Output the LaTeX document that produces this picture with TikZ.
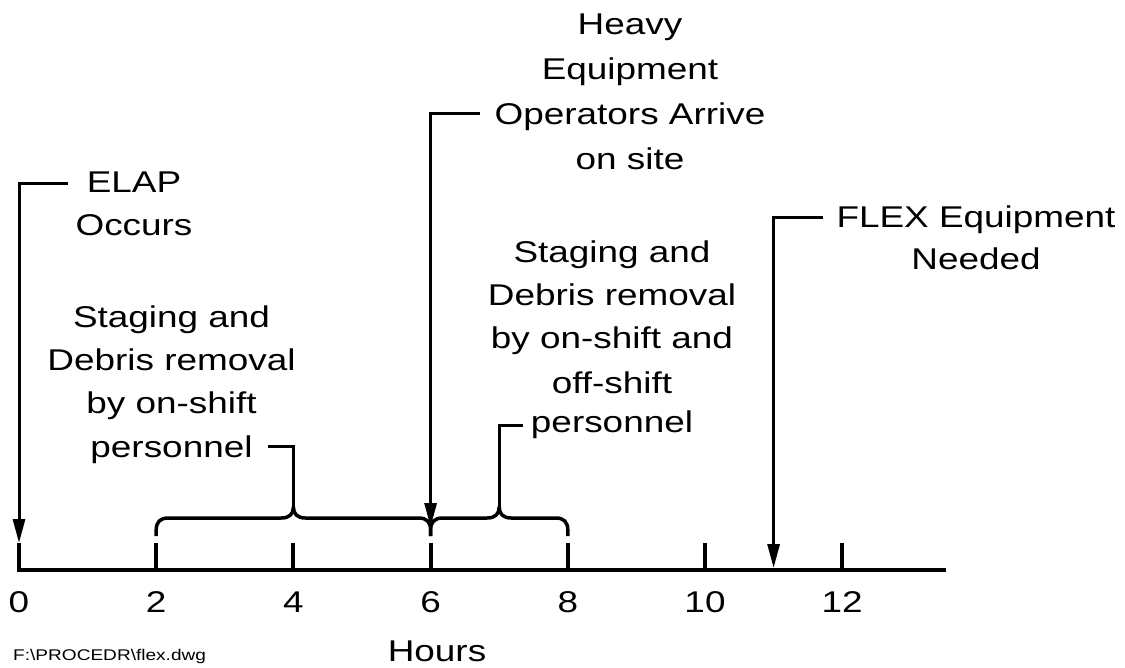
\documentclass[tikz,border=0pt]{standalone}
\usepackage{fontspec}
\newfontfamily\cad[FakeStretch=1.23]{Liberation Sans}
\usetikzlibrary{arrows.meta}
\begin{document}
\begin{tikzpicture}[x=1pt,y=-1pt,
  lbl/.style={font=\cad\fontsize{30}{43}\selectfont, align=center, inner sep=0pt, anchor=base},
  leader/.style={line width=3pt},
  arr/.style={line width=3pt, -{Triangle[length=24pt,width=12pt]}},
  axisline/.style={line width=4.5pt},
  tickline/.style={line width=4pt},
  bracepath/.style={line width=3.5pt, line join=round},
  ticklbl/.style={font=\cad\fontsize{30}{36}\selectfont, inner sep=0pt, anchor=base}]
\useasboundingbox (0,0) rectangle (1125,668);

% axis
\coordinate (axL) at (17,570);
\coordinate (axR) at (946,570);
\draw[axisline] (axL) -- (axR);

% ticks and labels
\foreach \h in {0,2,4,6,8,10,12}{
  \pgfmathsetmacro{\xx}{19+68.6*\h}
  \coordinate (tb\h) at (\xx,570);
  \coordinate (tt\h) at (\xx,543);
  \draw[tickline] (tb\h) -- (tt\h);
  \node[ticklbl] (n\h) at (\xx,612) {\h};
}

% braces
\coordinate (b2) at (156.2,536);
\coordinate (b4) at (293.4,507);
\coordinate (b6) at (430.6,536);
\coordinate (b7) at (499.2,507);
\coordinate (b8) at (567.8,536);
\draw[bracepath] (b2) -- (156.2,530) .. controls (156.2,522) and (160.2,518) .. (168.2,518)
  -- (281.4,518) .. controls (289.4,518) and (293.4,514) .. (b4)
  .. controls (293.4,514) and (297.4,518) .. (305.4,518)
  -- (418.6,518) .. controls (426.6,518) and (430.6,522) .. (430.6,530) -- (b6);
\draw[bracepath] (b6) -- (430.6,530) .. controls (430.6,522) and (434.6,518) .. (442.6,518)
  -- (487.2,518) .. controls (495.2,518) and (499.2,514) .. (b7)
  .. controls (499.2,514) and (503.2,518) .. (511.2,518)
  -- (555.8,518) .. controls (563.8,518) and (567.8,522) .. (567.8,530) -- (b8);

% texts (anchor=base is the baseline of the last line)
\node[lbl] (elap) at (134,236) {ELAP\\Occurs};
\node[lbl, font=\cad\fontsize{30}{45}\selectfont] (heavy) at (630,170) {Heavy\\Equipment\\Operators Arrive\\on site};
\node[lbl, font=\cad\fontsize{30}{42}\selectfont] (flex) at (976,270) {FLEX Equipment\\Needed};
\node[lbl, font=\cad\fontsize{30}{43.3}\selectfont] (stagL) at (171.5,457) {Staging and\\Debris removal\\by on-shift\\personnel};
\node[lbl] (stagR) at (612,432) {Staging and\\Debris removal\\by on-shift and\\[2pt]off-shift\\[-4pt]personnel};
\node[lbl] (hours) at (437,661) {Hours};
\node[font=\cad\fontsize{15.5}{18}\selectfont, inner sep=0pt, anchor=base west] (path) at (13,660) {F:\textbackslash PROCEDR\textbackslash flex.dwg};

% leaders and arrows
\coordinate (eL) at (68,184);
\coordinate (a0) at (19,543);
\draw[arr] (eL) -| (a0);
\coordinate (hL) at (480,114);
\coordinate (a6) at (430.6,527);
\draw[arr] (hL) -| (a6);
\coordinate (fL) at (823,218);
\coordinate (a11) at (773.6,568);
\draw[arr] (fL) -| (a11);
\coordinate (pL) at (268,446);
\draw[leader] (pL) -| (b4);
\coordinate (pR) at (523,425);
\draw[leader] (pR) -| (b7);
\end{tikzpicture}
\end{document}
